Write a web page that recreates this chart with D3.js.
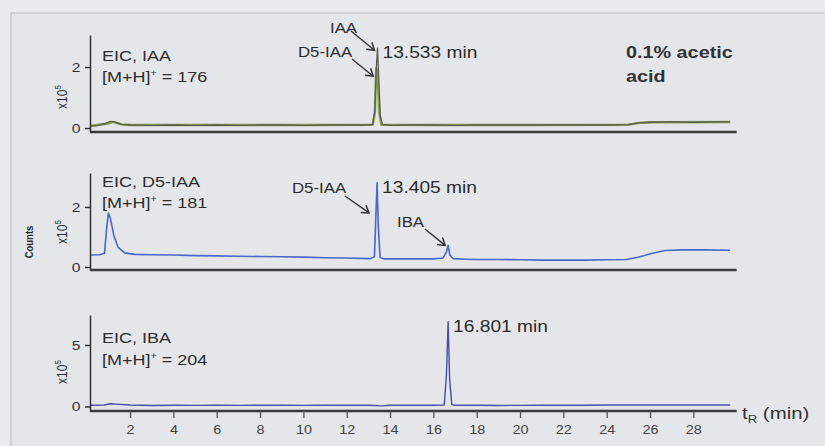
<!DOCTYPE html>
<html><head><meta charset="utf-8">
<script src="https://cdn.jsdelivr.net/npm/d3@7"></script>
<style>
body{margin:0;background:#e8e8ec;}
svg{display:block;font-family:"Liberation Sans",Arial,sans-serif;}
</style>
</head><body>
<svg id="chart" width="825" height="446"></svg>
<script>
// ---------------- DATA ----------------
const xTickValues = [2, 4, 6, 8, 10, 12, 14, 16, 18, 20, 22, 24, 26, 28];
const yTicksIAA = [0, 2];
const yTicksD5 = [0, 2];
const yTicksIBA = [0, 5];

// EIC m/z 176 (IAA), counts x10^5 vs retention time (min)
const iaaTrace = [[0.15,0.06],[0.5,0.08],[0.9,0.16],[1.1,0.22],[1.3,0.2],[1.6,0.12],[2,0.1],[3,0.09],[4,0.1],[5,0.09],[6,0.1],[7,0.09],[8,0.1],[9,0.1],[10,0.09],[11,0.1],[12,0.1],[12.8,0.1],[13.2,0.12],[13.3,0.6],[13.36,1.9],[13.42,2.62],[13.48,1.6],[13.55,0.4],[13.65,0.12],[14,0.09],[15,0.1],[16,0.1],[17,0.09],[18,0.1],[19,0.1],[20,0.1],[21,0.1],[22,0.1],[23,0.1],[24,0.1],[25,0.11],[25.4,0.16],[26,0.19],[27,0.2],[28,0.19],[29,0.2],[29.7,0.2]];
// co-eluting D5-IAA contribution seen in the IAA channel
const iaaD5Trace = [[0.15,0.07],[1,0.15],[1.2,0.2],[1.6,0.12],[2,0.1],[6,0.1],[10,0.1],[13.2,0.11],[13.3,0.5],[13.36,1.95],[13.42,1.9],[13.5,0.5],[13.6,0.11],[16,0.1],[20,0.1],[25,0.11],[25.5,0.17],[26,0.19],[29.7,0.2]];
// EIC m/z 181 (D5-IAA)
const d5Trace = [[0.15,0.4],[0.6,0.41],[0.82,0.46],[0.92,1.3],[1.0,1.8],[1.08,1.65],[1.25,1.05],[1.45,0.65],[1.75,0.47],[2.2,0.42],[3,0.41],[4,0.4],[5,0.38],[6,0.37],[7,0.36],[8,0.35],[9,0.34],[10,0.33],[11,0.31],[12,0.3],[13.1,0.28],[13.28,0.35],[13.34,1.6],[13.4,2.8],[13.46,1.3],[13.54,0.32],[13.7,0.27],[14,0.27],[15,0.27],[16,0.27],[16.45,0.3],[16.6,0.5],[16.68,0.72],[16.76,0.4],[16.9,0.28],[17.5,0.26],[18,0.25],[19,0.25],[20,0.24],[21,0.23],[22,0.23],[23,0.23],[24,0.24],[24.9,0.25],[25.5,0.33],[26.1,0.46],[26.7,0.55],[27.5,0.57],[28.5,0.57],[29.7,0.56]];
// EIC m/z 204 (IBA)
const ibaTrace = [[0.15,0.1],[0.8,0.12],[1.1,0.22],[1.5,0.17],[2,0.12],[3,0.08],[4,0.1],[5,0.09],[6,0.1],[7,0.09],[8,0.1],[9,0.1],[10,0.09],[11,0.1],[12,0.1],[13,0.1],[13.6,0.05],[14,0.1],[15,0.1],[16,0.1],[16.5,0.12],[16.6,2.5],[16.68,6.9],[16.75,2.2],[16.85,0.15],[17,0.1],[18,0.1],[19,0.08],[20,0.09],[21,0.1],[22,0.1],[23,0.1],[24,0.12],[25,0.12],[26,0.12],[27,0.12],[28,0.12],[29.7,0.12]];

const panelTitles = ["EIC, IAA", "EIC, D5-IAA", "EIC, IBA"];
const panelMz = ["176", "181", "204"];
const peakLabels = ["13.533 min", "13.405 min", "16.801 min"];
const peakTimes = [13.42, 13.40, 16.68];
const peakValues = [2.62, 2.8, 6.9];

// ---------------- DRAW ----------------
const SX = 1.2; // horizontal stretch of the reproduced figure
const svg = d3.select("#chart");
svg.append("rect").attr("width", 825).attr("height", 446).attr("fill", "#ebebee");
svg.append("rect").attr("x", 11).attr("y", 13).attr("width", 840).attr("height", 460)
  .attr("fill", "#e5e6ea").attr("stroke", "#c9c9ce").attr("stroke-width", 1.5);

const defs = svg.append("defs");
defs.append("marker").attr("id", "arr").attr("markerUnits", "userSpaceOnUse")
  .attr("viewBox", "-10 -6 12 12").attr("refX", 0).attr("refY", 0)
  .attr("markerWidth", 12).attr("markerHeight", 12).attr("orient", "auto")
  .append("path").attr("d", "M-7,-4.5 L0,0 L-7,4.5").attr("fill", "none")
  .attr("stroke", "#333").attr("stroke-width", 1.5);

function txt(g, x, y, s, o = {}) {
  const t = g.append("text")
    .attr("transform", `translate(${x},${y}) scale(${SX},1)`)
    .attr("font-size", o.size || 15).attr("fill", o.fill || "#2c2c2c")
    .attr("font-weight", o.weight || "normal")
    .attr("text-anchor", o.anchor || "start");
  t.text(s);
  return t;
}
function vtxt(g, x, y, s, o = {}) {
  return g.append("text")
    .attr("transform", `translate(${x},${y}) rotate(-90) scale(1,${SX})`)
    .attr("font-size", o.size || 12).attr("fill", o.fill || "#2c2c2c")
    .attr("font-weight", o.weight || "normal").attr("text-anchor", "middle");
}

const x = d3.scaleLinear().domain([0.15, 30]).range([90, 736.7]);

const panels = [
  { trace: [iaaTrace], colors: ["#5a5d52"], widths: [1.3], under: iaaD5Trace, underColor: "#86a04a",
    y: d3.scaleLinear().domain([-0.13, 3.05]).range([132, 35]), ticks: yTicksIAA,
    titleY: 61, mzY: 82, expY: 97 },
  { trace: [d5Trace], colors: ["#4866cc"], widths: [1.6],
    y: d3.scaleLinear().domain([-0.1, 3.13]).range([270, 173]), ticks: yTicksD5,
    titleY: 187, mzY: 208, expY: 232 },
  { trace: [ibaTrace], colors: ["#4c4ca6"], widths: [1.4],
    y: d3.scaleLinear().domain([-0.37, 7.44]).range([411, 315]), ticks: yTicksIBA,
    titleY: 343, mzY: 365, expY: 372 }
];

panels.forEach((p, i) => {
  const g = svg.append("g");
  const y = p.y;
  const line = d3.line().x(d => x(d[0])).y(d => y(d[1]));
  if (p.under) {
    g.append("path").datum(p.under).attr("d", line).attr("fill", "none")
      .attr("stroke", p.underColor).attr("stroke-width", 2.4).attr("stroke-linejoin", "round");
  }
  p.trace.forEach((tr, k) => {
    g.append("path").datum(tr).attr("d", line).attr("fill", "none")
      .attr("stroke", p.colors[k]).attr("stroke-width", p.widths[k]).attr("stroke-linejoin", "round");
  });

  // y axis
  const ya = g.append("g").attr("transform", `translate(${x.range()[0]},0)`)
    .call(d3.axisLeft(y).tickValues(p.ticks).tickSize(5).tickSizeOuter(0).tickPadding(3).tickFormat(d3.format("d")));
  ya.select(".domain").attr("stroke", "#333").attr("stroke-width", 1.5);
  ya.selectAll(".tick line").attr("stroke", "#333").attr("stroke-width", 1.5);
  ya.selectAll(".tick text").attr("font-size", 13).attr("fill", "#333")
    .attr("font-family", "Liberation Sans, Arial, sans-serif")
    .attr("transform", `scale(${SX},1)`);

  // x axis baseline (thick)
  const yb = y.range()[0];
  g.append("line").attr("x1", x.range()[0]).attr("x2", x.range()[1])
    .attr("y1", yb).attr("y2", yb).attr("stroke", "#3a3a3a").attr("stroke-width", 2.4);

  if (i === 2) {
    const xa = g.append("g").attr("transform", `translate(0,${yb})`)
      .call(d3.axisBottom(x).tickValues(xTickValues).tickSize(7).tickPadding(7).tickFormat(d3.format("d")));
    xa.select(".domain").remove();
    xa.selectAll(".tick line").attr("stroke", "#555").attr("stroke-width", 1.3);
    xa.selectAll(".tick text").attr("font-size", 12).attr("fill", "#444")
      .attr("font-family", "Liberation Sans, Arial, sans-serif")
      .attr("transform", `scale(${SX},1)`).attr("text-anchor", "middle");
    // fix the scale shifting x of labels: move groups instead
    xa.selectAll(".tick text").each(function () {
      d3.select(this).attr("transform", `scale(${SX},1)`);
    });
    const axLabel = txt(g, 742, 419, "", { size: 17, fill: "#333" });
    axLabel.append("tspan").text("t");
    axLabel.append("tspan").attr("font-size", 11).attr("dy", 4).text("R");
    axLabel.append("tspan").attr("dy", -4).text(" (min)");
  }

  // panel titles
  txt(g, 102, p.titleY, panelTitles[i], { size: 15 });
  const mz = txt(g, 102, p.mzY, "", { size: 15 });
  mz.append("tspan").text("[M+H]");
  mz.append("tspan").attr("font-size", 9).attr("dy", -6).text("+");
  mz.append("tspan").attr("dy", 6).text(" = " + panelMz[i]);

  // x10^5
  const e = vtxt(g, 67, p.expY, "", { size: 12 });
  e.append("tspan").text("x10");
  e.append("tspan").attr("font-size", 8).attr("dy", -5).text("5");

  // peak retention-time label
  txt(g, x(peakTimes[i]) + 5, y(peakValues[i]) + 10, peakLabels[i], { size: 16 });
});

// Counts label
vtxt(svg, 33, 242, "", { size: 9.5, weight: "bold" }).text("Counts");

// condition label
const cond = svg.append("g");
txt(cond, 626, 58, "0.1% acetic", { size: 16.5, weight: "bold", fill: "#333" });
txt(cond, 626, 82, "acid", { size: 16.5, weight: "bold", fill: "#333" });

// annotations with arrows
const ann = svg.append("g");
function arrow(x1, y1, x2, y2) {
  ann.append("line").attr("x1", x1).attr("y1", y1).attr("x2", x2).attr("y2", y2)
    .attr("stroke", "#333").attr("stroke-width", 1.4).attr("marker-end", "url(#arr)");
}
const yTop = panels[0].y, yMid = panels[1].y;
txt(ann, 330, 33, "IAA", { size: 14 });
arrow(351, 31, x(13.42) - 3, yTop(2.55));
txt(ann, 298, 57, "D5-IAA", { size: 14 });
arrow(352, 59, x(13.36) - 3, yTop(1.7));
txt(ann, 292, 193, "D5-IAA", { size: 14 });
arrow(345, 196, x(13.4) - 8, yMid(1.8));
txt(ann, 397, 227, "IBA", { size: 14 });
arrow(425, 229, x(16.68) - 3, yMid(0.72));
</script>
</body></html>
